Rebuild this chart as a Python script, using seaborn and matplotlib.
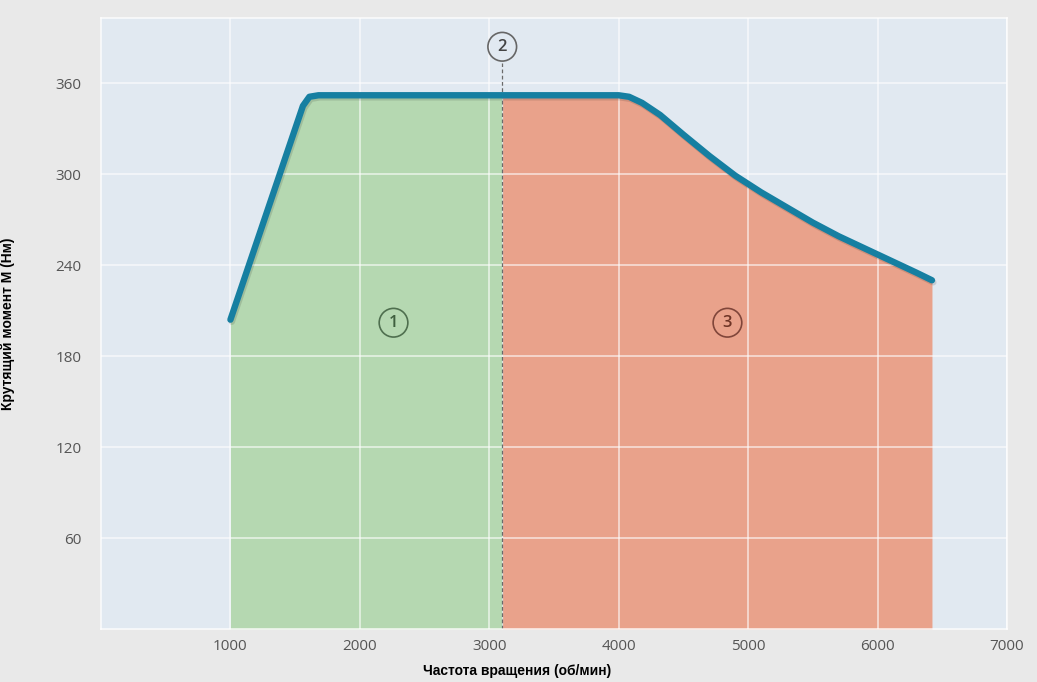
import numpy as np
import pandas as pd
import seaborn as sns
import matplotlib.pyplot as plt
import matplotlib.patheffects as pe

# torque curve
rpm = [1000, 1560, 1610, 1680, 2500, 3100, 3600, 4000, 4080, 4180, 4320, 4500, 4700, 4900,
       5100, 5300, 5500, 5700, 5900, 6100, 6300, 6420]
torque = [204, 345, 351, 352, 352, 352, 352, 352, 351, 347, 339, 326, 312, 299,
          288, 278, 268, 259, 251, 243, 235, 230]

boundary = 3100
yticks = [60, 120, 180, 240, 300, 360]
xticks = [1000, 2000, 3000, 4000, 5000, 6000, 7000]
zones = ['1', '2', '3']

df = pd.DataFrame({'rpm': rpm, 'torque': torque})

sns.set_style('darkgrid', {'axes.facecolor': '#e1e9f1', 'figure.facecolor': '#e9e9e9',
                           'grid.color': 'white', 'axes.edgecolor': 'white'})
plt.rcParams['font.family'] = ['Open Sans', 'DejaVu Sans']

fig = plt.figure(figsize=(10.37, 6.82), dpi=100)
ax = fig.add_axes([0.0974, 0.0777, 0.8737, 0.896])

# dense version of the curve for filling (linear between read points)
xs = np.linspace(rpm[0], rpm[-1], 800)
ys = np.interp(xs, rpm, torque)
ax.fill_between(xs, 0, ys, where=xs <= boundary, color='#b5d8b1', lw=0, zorder=0.3)
ax.fill_between(xs, 0, ys, where=xs >= boundary, color='#e9a28b', lw=0, zorder=0.3)

sns.lineplot(data=df, x='rpm', y='torque', ax=ax, color='#167fa1', lw=4.6,
             solid_capstyle='round', solid_joinstyle='round', zorder=3,
             path_effects=[pe.SimpleLineShadow(offset=(1, -1.5), alpha=0.12, shadow_color='black'),
                           pe.Normal()])

ax.plot([boundary, boundary], [0, 373], ls=(0, (3, 2)), color='#6a6a6a', lw=0.9, zorder=2)

circ = dict(boxstyle='circle,pad=0.38', fc='none', lw=1.2)
ax.text(boundary, 384, zones[1], ha='center', va='center', fontsize=12, fontweight='semibold',
        color='#444444', bbox=dict(circ, ec='#666666'))
ax.text(2260, 202, zones[0], ha='center', va='center', fontsize=12, fontweight='semibold',
        color='#3f5f3f', bbox=dict(circ, ec='#4f6f4f'))
ax.text(4840, 202, zones[2], ha='center', va='center', fontsize=12, fontweight='semibold',
        color='#6e3426', bbox=dict(circ, ec='#80463a'))

ax.set_xlim(0, 7000)
ax.set_ylim(0, 403)
ax.set_xticks(xticks)
ax.set_yticks(yticks)
ax.xaxis.grid(True)
ax.yaxis.grid(True)
for ln in ax.get_xgridlines() + ax.get_ygridlines():
    ln.set_linewidth(1.3)
    ln.set_alpha(0.6)
ax.tick_params(axis='both', labelsize=11, labelcolor='#555555', length=0)
ax.tick_params(axis='y', pad=14)
ax.tick_params(axis='x', pad=7)
for s in ax.spines.values():
    s.set_color('white')
    s.set_linewidth(1.2)
    s.set_alpha(0.8)

ax.set_xlabel('Частота вращения (об/мин)', family='Liberation Sans', fontweight='bold',
              fontsize=10, color='black')
ax.set_ylabel('Крутящий момент М (Нм)', family='Liberation Sans', fontweight='bold',
              fontsize=10, color='black')
ax.xaxis.set_label_coords(0.459, -0.058)
ax.yaxis.set_label_coords(-0.095, 0.5)

fig.savefig('out.png', dpi=100, facecolor=fig.get_facecolor())
